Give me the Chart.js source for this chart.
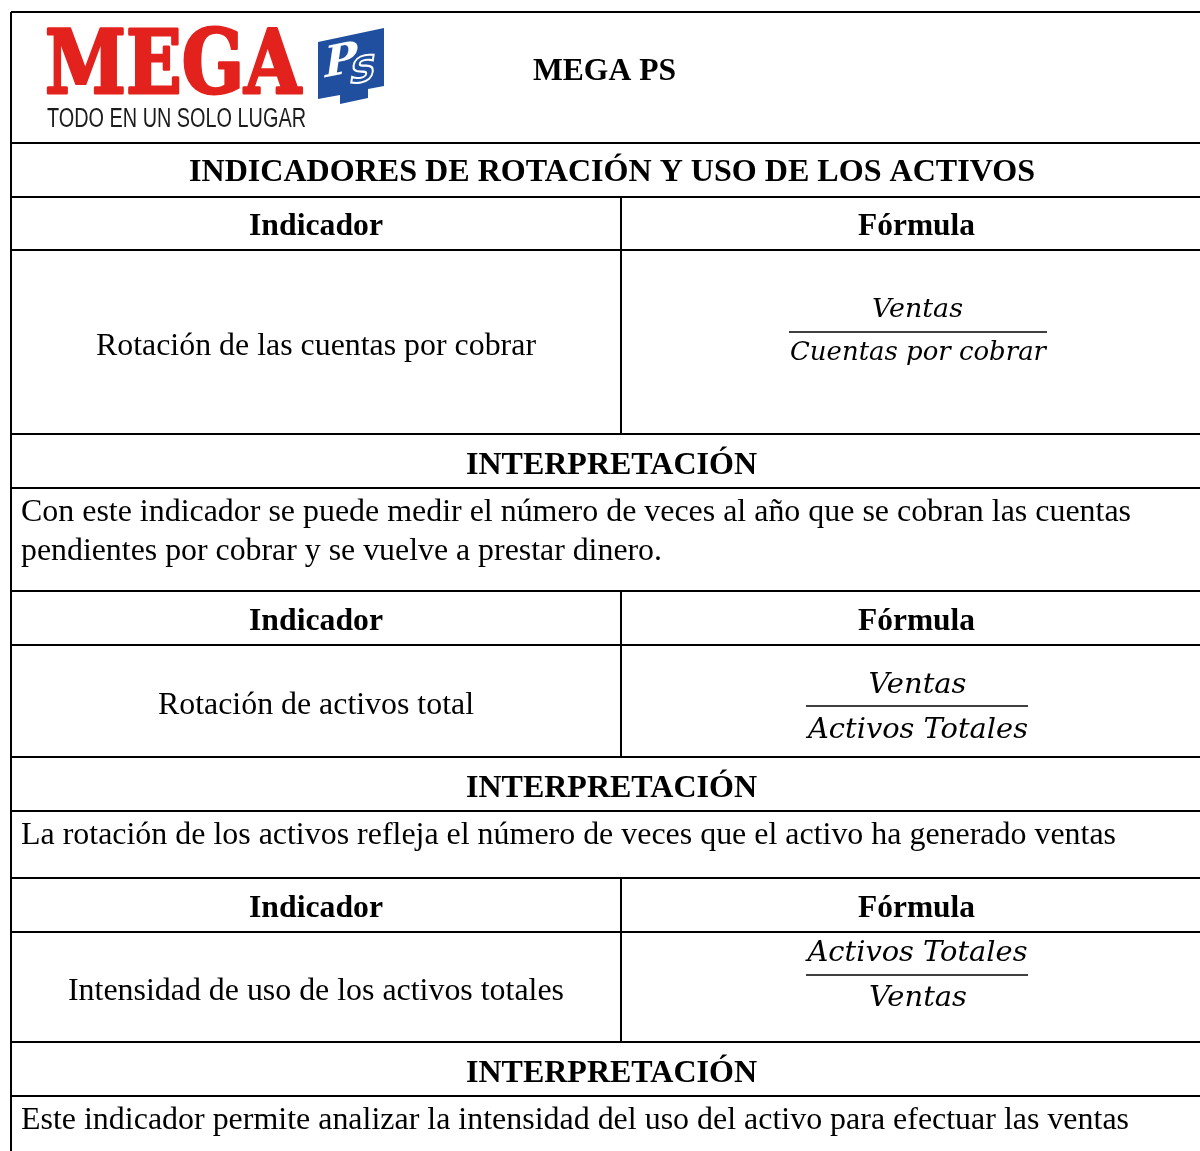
<!DOCTYPE html>
<html>
<head>
<meta charset="utf-8">
<title>MEGA PS - Indicadores de rotación</title>
<script src="https://cdn.jsdelivr.net/npm/chart.js@4.4.0/dist/chart.umd.min.js"></script>
<style>
  html, body { margin: 0; padding: 0; background: #fff; }
  #tabla { display: block; }
</style>
</head>
<body>
<canvas id="tabla" width="1200" height="1151"></canvas>
<script>
// contenido de la tabla
const empresa = 'MEGA PS';
const logoTexto = 'MEGA';
const logoLema = 'TODO EN UN SOLO LUGAR';
const titulo = 'INDICADORES DE ROTACIÓN Y USO DE LOS ACTIVOS';
const encabezados = ['Indicador', 'Fórmula'];
const indicadores = [
  'Rotación de las cuentas por cobrar',
  'Rotación de activos total',
  'Intensidad de uso de los activos totales'
];
const numeradores = ['Ventas', 'Ventas', 'Activos Totales'];
const denominadores = ['Cuentas por cobrar', 'Activos Totales', 'Ventas'];
const subtitulo = 'INTERPRETACIÓN';
const interpretaciones = [
  ['Con este indicador se puede medir el número de veces al año que se cobran las cuentas',
   'pendientes por cobrar y se vuelve a prestar dinero.'],
  ['La rotación de los activos refleja el número de veces que el activo ha generado ventas'],
  ['Este indicador permite analizar la intensidad del uso del activo para efectuar las ventas']
];

// layout (px)
const izq = 11, divisor = 621, colIzq = 316;
const bloques = [
  { enc: 197, fila: 250, interp: 434, texto: 488, mathFont: 26, lineaAncho: [789, 1047] },
  { enc: 591, fila: 645, interp: 757, texto: 811, mathFont: 27, lineaAncho: [806, 1028] },
  { enc: 878, fila: 932, interp: 1042, texto: 1096, mathFont: 27, lineaAncho: [806, 1028] }
];
const mathPos = [
  { num: 317, linea: 332, den: 360, wNum: 91, wDen: 256 },
  { num: 693, linea: 706, den: 738, wNum: 98, wDen: 220 },
  { num: 961, linea: 975, den: 1006, wNum: 220, wDen: 98 }
];
const anchos = {
  empresa: 143, titulo: 846, enc: [134, 117], interp: 291,
  ind: [440, 316, 496],
  parrafos: [[1110, 641], [1095], [1108]]
};

const serif = '"Liberation Serif", "Times New Roman", serif';

function texto(ctx, t, x, y, font, align, ancho, grosor) {
  ctx.save();
  ctx.font = font;
  ctx.textAlign = align;
  ctx.textBaseline = 'alphabetic';
  const w = ctx.measureText(t).width;
  ctx.translate(x, y);
  if (ancho) ctx.scale(ancho / w, 1);
  ctx.fillText(t, 0, 0);
  if (grosor) {
    ctx.strokeStyle = ctx.fillStyle;
    ctx.lineWidth = grosor;
    ctx.lineJoin = 'round';
    ctx.strokeText(t, 0, 0);
  }
  ctx.restore();
}

function linea(ctx, x1, y1, x2, y2) {
  ctx.beginPath();
  ctx.moveTo(x1, y1);
  ctx.lineTo(x2, y2);
  ctx.stroke();
}

function dibujarLogo(ctx) {
  ctx.fillStyle = '#e3221d';
  texto(ctx, logoTexto, 45, 93, 'bold 88px "DejaVu Serif", serif', 'left', 256, 3);
  ctx.fillStyle = '#1c1c1c';
  texto(ctx, logoLema, 47, 127, '27px "Liberation Sans", Arial, sans-serif', 'left', 259);

  // marca PS
  ctx.fillStyle = '#1f4f9e';
  ctx.beginPath();
  ctx.moveTo(318, 42);
  ctx.lineTo(384, 28);
  ctx.lineTo(384, 86);
  ctx.lineTo(368, 89);
  ctx.lineTo(368, 98);
  ctx.lineTo(340, 104);
  ctx.lineTo(340, 95);
  ctx.lineTo(318, 99);
  ctx.closePath();
  ctx.fill();
  ctx.save();
  ctx.translate(322, 78);
  ctx.transform(1, -0.2, -0.15, 1, 0, 0);
  ctx.fillStyle = '#ffffff';
  ctx.font = 'bold 44px "DejaVu Serif", serif';
  ctx.fillText('P', 0, 0);
  ctx.strokeStyle = '#ffffff';
  ctx.lineWidth = 2;
  ctx.font = 'bold 36px "DejaVu Sans", sans-serif';
  ctx.strokeText('S', 28, 12);
  ctx.restore();
}

const tablaPlugin = {
  id: 'tablaIndicadores',
  afterDraw(chart) {
    const ctx = chart.ctx;
    ctx.save();
    ctx.fillStyle = '#ffffff';
    ctx.fillRect(0, 0, chart.width, chart.height);

    ctx.strokeStyle = '#000';
    ctx.lineWidth = 2;
    linea(ctx, izq, 12, 1200, 12);
    linea(ctx, izq, 12, izq, 1151);
    linea(ctx, izq, 143, 1200, 143);

    bloques.forEach((b, i) => {
      [b.enc, b.fila, b.interp, b.texto].forEach(y => linea(ctx, izq, y, 1200, y));
      linea(ctx, divisor, b.enc, divisor, b.interp);
      ctx.lineWidth = 1.6;
      linea(ctx, b.lineaAncho[0], mathPos[i].linea, b.lineaAncho[1], mathPos[i].linea);
      ctx.lineWidth = 2;
    });

    dibujarLogo(ctx);

    ctx.fillStyle = '#000';
    texto(ctx, empresa, 604.5, 80, 'bold 32px ' + serif, 'center', anchos.empresa);
    texto(ctx, titulo, 612, 181, 'bold 32px ' + serif, 'center', anchos.titulo);

    bloques.forEach((b, i) => {
      const yEnc = (b.enc + b.fila) / 2 + 11.5;
      texto(ctx, encabezados[0], colIzq, yEnc, 'bold 32px ' + serif, 'center', anchos.enc[0]);
      texto(ctx, encabezados[1], 916.5, yEnc, 'bold 32px ' + serif, 'center', anchos.enc[1]);

      texto(ctx, indicadores[i], colIzq, (b.fila + b.interp) / 2 + 12.5, '32px ' + serif, 'center', anchos.ind[i]);

      const mf = 'italic ' + b.mathFont + 'px "DejaVu Serif", serif';
      texto(ctx, numeradores[i], 917.5, mathPos[i].num, mf, 'center', mathPos[i].wNum);
      texto(ctx, denominadores[i], 918, mathPos[i].den, mf, 'center', mathPos[i].wDen);

      texto(ctx, subtitulo, 611.5, (b.interp + b.texto) / 2 + 12.5, 'bold 32px ' + serif, 'center', anchos.interp);

      interpretaciones[i].forEach((l, j) => {
        texto(ctx, l, 21, b.texto + 33 + j * 39, '32px ' + serif, 'left', anchos.parrafos[i][j]);
      });
    });
    ctx.restore();
  }
};

new Chart(document.getElementById('tabla'), {
  type: 'bar',
  data: { labels: [], datasets: [] },
  options: {
    responsive: false,
    animation: false,
    events: [],
    layout: { padding: 0 },
    plugins: { legend: { display: false }, tooltip: { enabled: false } },
    scales: { x: { display: false }, y: { display: false } }
  },
  plugins: [tablaPlugin]
});
</script>
</body>
</html>
